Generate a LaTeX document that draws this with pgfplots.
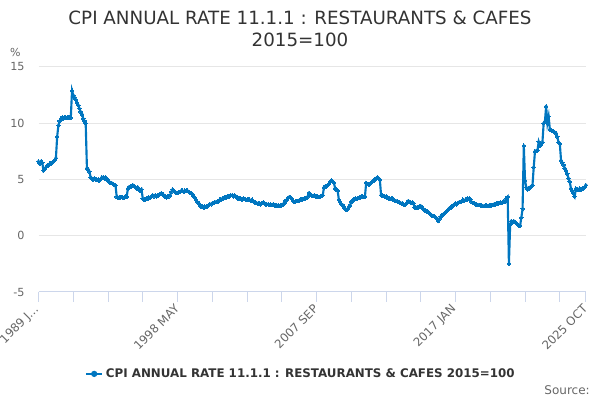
\documentclass[border=0pt]{standalone}
\usepackage{fontspec}
\setmainfont{DejaVu Sans}
\usepackage{graphicx}
\usepackage{pgfplots}
\usepackage{pgfplotstable}
\pgfplotsset{compat=1.18}
\definecolor{line}{RGB}{0,118,192}
\definecolor{grid}{RGB}{230,230,230}
\definecolor{axisc}{RGB}{204,214,235}
\definecolor{tickc}{RGB}{102,102,102}
\definecolor{titlec}{RGB}{51,51,51}
\newcommand{\rl}[1]{\rotatebox{45}{#1}}
\pgfplotstableread[row sep=\\]{
y\\
6.6\\ 6.4\\ 6.6\\ 6.5\\ 5.8\\ 5.9\\ 6.1\\ 6.2\\ 6.3\\ 6.4\\ 6.4\\ 6.5\\
6.6\\ 6.7\\ 6.9\\ 8.8\\ 9.8\\ 10.2\\ 10.4\\ 10.5\\ 10.4\\ 10.5\\ 10.5\\ 10.5\\
10.5\\ 10.5\\ 10.5\\ 12.9\\ 12.5\\ 12.3\\ 12.1\\ 11.8\\ 11.6\\ 11.3\\ 11.0\\ 10.8\\
10.4\\ 10.2\\ 10.0\\ 6.0\\ 5.9\\ 5.7\\ 5.2\\ 5.1\\ 5.0\\ 5.1\\ 5.0\\ 5.0\\
5.0\\ 4.9\\ 5.0\\ 5.2\\ 5.2\\ 5.1\\ 5.2\\ 5.0\\ 4.9\\ 4.8\\ 4.7\\ 4.7\\
4.6\\ 4.5\\ 4.5\\ 3.45\\ 3.4\\ 3.4\\ 3.4\\ 3.45\\ 3.4\\ 3.4\\ 3.5\\ 3.45\\
4.2\\ 4.35\\ 4.4\\ 4.4\\ 4.5\\ 4.4\\ 4.3\\ 4.2\\ 4.3\\ 4.1\\ 4.0\\ 4.1\\
3.3\\ 3.2\\ 3.2\\ 3.3\\ 3.3\\ 3.4\\ 3.4\\ 3.5\\ 3.6\\ 3.5\\ 3.6\\ 3.5\\
3.6\\ 3.6\\ 3.7\\ 3.8\\ 3.7\\ 3.6\\ 3.5\\ 3.4\\ 3.5\\ 3.5\\ 3.6\\ 3.9\\
4.1\\ 4.0\\ 3.9\\ 3.8\\ 3.8\\ 3.9\\ 3.9\\ 4.0\\ 4.0\\ 3.9\\ 4.0\\ 4.0\\
4.0\\ 3.9\\ 3.8\\ 3.8\\ 3.7\\ 3.5\\ 3.4\\ 3.2\\ 3.0\\ 2.9\\ 2.7\\ 2.6\\
2.6\\ 2.5\\ 2.6\\ 2.6\\ 2.6\\ 2.7\\ 2.8\\ 2.8\\ 2.9\\ 2.9\\ 3.0\\ 3.0\\
3.0\\ 3.1\\ 3.2\\ 3.2\\ 3.3\\ 3.3\\ 3.4\\ 3.4\\ 3.5\\ 3.5\\ 3.5\\ 3.6\\
3.6\\ 3.5\\ 3.6\\ 3.5\\ 3.4\\ 3.3\\ 3.3\\ 3.3\\ 3.2\\ 3.3\\ 3.25\\ 3.2\\
3.2\\ 3.2\\ 3.2\\ 3.1\\ 3.2\\ 3.1\\ 3.0\\ 2.9\\ 2.9\\ 2.85\\ 2.9\\ 2.8\\
2.9\\ 2.95\\ 2.9\\ 2.8\\ 2.8\\ 2.8\\ 2.75\\ 2.8\\ 2.75\\ 2.8\\ 2.7\\ 2.7\\
2.7\\ 2.7\\ 2.65\\ 2.7\\ 2.7\\ 2.8\\ 2.9\\ 3.1\\ 3.2\\ 3.35\\ 3.45\\ 3.4\\
3.3\\ 3.1\\ 3.0\\ 3.05\\ 3.1\\ 3.1\\ 3.15\\ 3.2\\ 3.2\\ 3.25\\ 3.3\\ 3.3\\
3.35\\ 3.5\\ 3.8\\ 3.7\\ 3.6\\ 3.55\\ 3.6\\ 3.5\\ 3.5\\ 3.5\\ 3.45\\ 3.5\\
3.55\\ 3.6\\ 4.3\\ 4.4\\ 4.4\\ 4.5\\ 4.6\\ 4.8\\ 4.9\\ 4.8\\ 4.7\\ 4.2\\
4.1\\ 4.0\\ 3.2\\ 3.0\\ 2.8\\ 2.75\\ 2.5\\ 2.4\\ 2.3\\ 2.4\\ 2.6\\ 2.7\\
3.0\\ 3.15\\ 3.2\\ 3.3\\ 3.25\\ 3.3\\ 3.35\\ 3.4\\ 3.5\\ 3.5\\ 3.45\\ 3.5\\
4.7\\ 4.6\\ 4.55\\ 4.6\\ 4.7\\ 4.8\\ 4.9\\ 5.0\\ 5.1\\ 5.2\\ 5.1\\ 5.0\\
3.6\\ 3.6\\ 3.55\\ 3.5\\ 3.5\\ 3.4\\ 3.3\\ 3.3\\ 3.3\\ 3.3\\ 3.2\\ 3.15\\
3.1\\ 3.1\\ 3.0\\ 2.95\\ 2.9\\ 2.85\\ 2.8\\ 2.75\\ 2.8\\ 2.95\\ 3.1\\ 3.0\\
2.95\\ 2.95\\ 2.9\\ 2.5\\ 2.5\\ 2.55\\ 2.5\\ 2.6\\ 2.65\\ 2.5\\ 2.4\\ 2.3\\
2.2\\ 2.15\\ 2.1\\ 2.0\\ 1.9\\ 1.8\\ 1.75\\ 1.7\\ 1.6\\ 1.5\\ 1.3\\ 1.5\\
1.7\\ 1.8\\ 1.9\\ 2.0\\ 2.1\\ 2.2\\ 2.3\\ 2.45\\ 2.5\\ 2.6\\ 2.7\\ 2.8\\
2.9\\ 2.8\\ 2.9\\ 3.0\\ 3.0\\ 3.1\\ 3.2\\ 3.1\\ 3.2\\ 3.2\\ 3.3\\ 3.3\\
3.2\\ 3.0\\ 2.9\\ 2.9\\ 2.8\\ 2.8\\ 2.75\\ 2.75\\ 2.7\\ 2.7\\ 2.65\\ 2.65\\
2.7\\ 2.7\\ 2.65\\ 2.7\\ 2.7\\ 2.7\\ 2.75\\ 2.8\\ 2.8\\ 2.9\\ 2.85\\ 2.9\\
2.95\\ 2.9\\ 3.0\\ 3.1\\ 3.0\\ 3.3\\ 3.45\\ -2.5\\ 1.0\\ 1.3\\ 1.2\\ 1.3\\
1.2\\ 1.1\\ 1.0\\ 0.9\\ 0.9\\ 1.6\\ 2.4\\ 8.0\\ 4.9\\ 4.3\\ 4.1\\ 4.2\\
4.3\\ 4.4\\ 4.5\\ 6.1\\ 7.5\\ 7.55\\ 7.6\\ 8.35\\ 8.0\\ 8.1\\ 8.3\\ 10.0\\
10.15\\ 11.5\\ 10.0\\ 10.6\\ 9.45\\ 9.4\\ 9.3\\ 9.25\\ 9.2\\ 9.1\\ 8.8\\ 8.3\\
8.2\\ 6.7\\ 6.5\\ 6.3\\ 6.0\\ 5.8\\ 5.5\\ 5.1\\ 4.8\\ 4.2\\ 4.0\\ 3.75\\
3.5\\ 4.2\\ 4.1\\ 4.05\\ 4.2\\ 4.1\\ 4.2\\ 4.2\\ 4.3\\ 4.5\\
}\cpidata
\begin{document}
\begin{tikzpicture}
\path[use as bounding box] (0pt,0pt) rectangle (450pt,300pt);
\begin{axis}[
  at={(28.9pt,81pt)}, anchor=south west,
  scale only axis, width=410.5pt, height=168.75pt,
  xmin=0, xmax=441, ymin=-5, ymax=15,
  axis x line*=bottom, axis y line*=left,
  y axis line style={draw=none},
  x axis line style={draw=axisc, line width=0.75pt},
  ytick={-5,0,5,10,15},
  ymajorgrids, grid style={draw=grid, line width=0.75pt},
  ytick style={draw=none},
  xtick={0,112,224,336,441},
  minor xtick={28,56,84,140,168,196,252,280,308,364,392,420},
  xticklabels={\rl{1989 J\ldots},\rl{1998 MAY},\rl{2007 SEP},\rl{2017 JAN},\rl{2025 OCT}},
  tick align=outside,
  major tick length=7.5pt, minor tick length=7.5pt,
  xtick style={draw=axisc, line width=0.75pt},
  minor x tick style={draw=axisc, line width=0.75pt},
  /pgf/number format/assume math mode=true,
  yticklabel style={font=\fontsize{8.4}{9}\selectfont, text=tickc, anchor=east, inner sep=0pt, xshift=-2.8pt},
  x tick label style={font=\fontsize{8.8}{9}\selectfont, text=tickc, anchor=north east, inner sep=0pt, xshift=2pt, yshift=-1pt},
  legend style={at={(0.48,-0.364)}, anchor=center, draw=none, fill=none,
    font=\bfseries\fontsize{8.9}{10}\selectfont, text=titlec,
    legend cell align=left},
  legend image code/.code={
    \draw[line, line width=1.5pt] (0pt,0pt) -- (12pt,0pt);
    \fill[line] (6pt,0pt) circle (1.5pt);
  },
  clip=false,
]
\addplot[line, line width=1.6pt, mark=*, mark size=1.35pt, mark options={fill=line, draw=line, line width=0pt}]
  table[x expr=\coordindex, y=y] {\cpidata};
\addlegendentry{CPI ANNUAL RATE 11.1.1 : RESTAURANTS \& CAFES 2015=100}
\end{axis}
\node[text=titlec, align=center, font=\fontsize{13.7}{16.5}\selectfont] at (225pt,278.5pt) {CPI ANNUAL RATE 11.1.1 : RESTAURANTS \& CAFES\\2015=100};
\node[text=tickc, font=\fontsize{8.25}{9}\selectfont] at (11.5pt,261pt) {\%};
\node[text=tickc, anchor=east, inner sep=0pt, font=\fontsize{9}{10}\selectfont] at (442.5pt,7.5pt) {Source:};
\end{tikzpicture}
\end{document}
